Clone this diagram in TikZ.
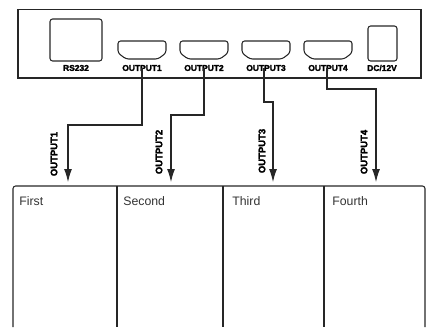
\documentclass[tikz,border=0pt]{standalone}
\usepackage{fontspec}
\setmainfont{Liberation Sans}
\newfontfamily\heavyfont[FakeBold=2.5]{Liberation Sans}
\usetikzlibrary{%
  arrows.meta,%
}

\begin{document}
\begin{tikzpicture}[x=0.02cm, y=-0.02cm, >=Latex,
    wire/.style={line width=0.6pt, black!85},
    flow/.style={wire, -{Latex[length=0.26cm, width=0.16cm]}},
    portname/.style={inner sep=0pt, font=\fontsize{4.8pt}{5pt}\heavyfont\bfseries},
    sidename/.style={portname, rotate=90, font=\fontsize{5.4pt}{6pt}\heavyfont\bfseries},
    cellname/.style={inner sep=0pt, anchor=west, font=\fontsize{7pt}{9pt}\selectfont, black!80},
    corner/.style={rounded corners=1.5pt}
  ]

      \useasboundingbox (0, 0) rectangle (431, 327);

      \draw [wire] (18, 9.5) rectangle (421, 78);

      \draw [wire, corner] (50, 19) rectangle (102, 61);
      \node [portname] (rs) at (76, 68) {RS232};

      \draw [wire, corner] (118, 41) -- (166, 41) -- (166, 53) -- (158, 59)
        -- (126, 59) -- (118, 53) -- cycle;
      \node [portname] (outa) at (142, 68) {OUTPUT1};

      \draw [wire, corner] (180, 41) -- (228, 41) -- (228, 53) -- (220, 59)
        -- (188, 59) -- (180, 53) -- cycle;
      \node [portname] (outb) at (204, 68) {OUTPUT2};

      \draw [wire, corner] (242, 41) -- (290, 41) -- (290, 53) -- (282, 59)
        -- (250, 59) -- (242, 53) -- cycle;
      \node [portname] (outc) at (266, 68) {OUTPUT3};

      \draw [wire, corner] (304, 41) -- (352, 41) -- (352, 53) -- (344, 59)
        -- (312, 59) -- (304, 53) -- cycle;
      \node [portname] (outd) at (328, 68) {OUTPUT4};

      \draw [wire, corner] (368, 26) rectangle (397, 61);
      \node [portname] (dc) at (382, 68) {DC/12V};

      \draw [wire, corner] (13, 327) -- (13, 186) -- (425, 186) -- (425, 327);
      \draw [wire] (117, 186) -- (117, 327);
      \draw [wire] (223, 186) -- (223, 327);
      \draw [wire] (324, 186) -- (324, 327);

      \node [cellname] (first) at (19, 201) {First};
      \node [cellname] (second) at (123, 201) {Second};
      \node [cellname] (third) at (232, 201) {Third};
      \node [cellname] (fourth) at (332, 201) {Fourth};

      \coordinate (tapC) at (264, 68);
      \coordinate (tapD) at (327, 68);

      \coordinate (bendA) at (68, 125);
      \coordinate (bendB) at (171, 115);
      \coordinate (bendC) at (273, 102);
      \coordinate (bendD) at (376, 89);

      \coordinate (inA) at (68, 182);
      \coordinate (inB) at (171, 182);
      \coordinate (inC) at (273, 182);
      \coordinate (inD) at (376, 182);

      \draw [flow] (outa.center) |- (bendA) -- (inA);
      \draw [flow] (outb.center) |- (bendB) -- (inB);
      \draw [flow] (tapC) |- (bendC) -- (inC);
      \draw [flow] (tapD) |- (bendD) -- (inD);

      \node [sidename] (sidea) at (54, 154) {OUTPUT1};
      \node [sidename] (sideb) at (159, 152) {OUTPUT2};
      \node [sidename] (sidec) at (262, 151) {OUTPUT3};
      \node [sidename] (sided) at (364, 152) {OUTPUT4};

\end{tikzpicture}
\end{document}
